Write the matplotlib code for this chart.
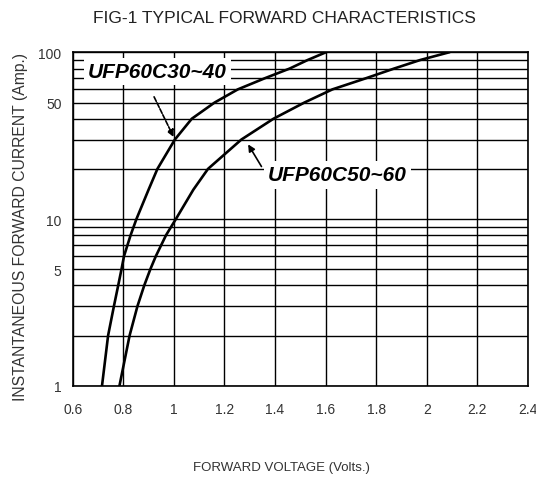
import matplotlib
matplotlib.use('Agg')
from matplotlib import pyplot as plt
from matplotlib.ticker import FixedLocator, NullFormatter

plt.rcParams['font.family'] = ['Liberation Sans', 'DejaVu Sans']

# forward voltage (V) vs instantaneous forward current (A)
v_30_40 = [0.716, 0.740, 0.763, 0.780, 0.793, 0.803, 0.829, 0.852, 0.900, 0.935, 1.004,
           1.071, 1.161, 1.253, 1.360, 1.458, 1.529, 1.600]
i_30_40 = [1, 2, 3, 4, 5, 6, 8, 10, 15, 20, 30, 40, 50, 60, 70, 80, 90, 100]

v_50_60 = [0.785, 0.825, 0.856, 0.883, 0.907, 0.929, 0.969, 1.008, 1.077, 1.135, 1.267,
           1.394, 1.516, 1.627, 1.760, 1.871, 1.974, 2.087]
i_50_60 = [1, 2, 3, 4, 5, 6, 8, 10, 15, 20, 30, 40, 50, 60, 70, 80, 90, 100]

x_ticks = [0.6, 0.8, 1.0, 1.2, 1.4, 1.6, 1.8, 2.0, 2.2, 2.4]
x_labels = ['0.6', '0.8', '1', '1.2', '1.4', '1.6', '1.8', '2', '2.2', '2.4']
y_ticks = [1, 5, 10, 50, 100]
y_labels = ['1', '5', '10', '50', '100']
y_grid = [2, 3, 4, 6, 7, 8, 9, 20, 30, 40, 60, 70, 80, 90]

fig = plt.figure(figsize=(5.36, 4.81), dpi=100)
ax = fig.add_axes([0.1356, 0.196, 0.8494, 0.693])

ax.plot(v_30_40, i_30_40, color='black', lw=1.9, zorder=3, solid_joinstyle='round')
ax.plot(v_50_60, i_50_60, color='black', lw=1.9, zorder=3, solid_joinstyle='round')

ax.set_yscale('log')
ax.set_xlim(0.6, 2.4)
ax.set_ylim(1, 100)

ax.xaxis.set_major_locator(FixedLocator(x_ticks))
ax.set_xticklabels(x_labels)
ax.yaxis.set_major_locator(FixedLocator(y_ticks))
ax.set_yticklabels(y_labels)
ax.yaxis.set_minor_locator(FixedLocator(y_grid))
ax.yaxis.set_minor_formatter(NullFormatter())
ax.tick_params(which='both', length=0, labelsize=10, colors='#333333')
ax.tick_params(axis='x', pad=12)
ax.tick_params(axis='y', pad=8)
ax.grid(True, which='both', color='black', lw=1.0)
for s in ax.spines.values():
    s.set_linewidth(1.2)

# curve labels with arrows
box = dict(boxstyle='square,pad=0.2', fc='white', ec='none')
ax.annotate('', xy=(1.004, 30), xytext=(0.917, 56),
            arrowprops=dict(arrowstyle='-|>', color='black', lw=1.2, ls=(0, (3, 1)),
                            mutation_scale=10), zorder=4)
ax.text(0.66, 77, 'UFP60C30~40', fontsize=15, fontweight='bold', style='italic',
        va='center', ha='left', bbox=box, zorder=5)
ax.annotate('', xy=(1.288, 29), xytext=(1.352, 20),
            arrowprops=dict(arrowstyle='-|>', color='black', lw=1.2, mutation_scale=10),
            zorder=4)
ax.text(1.372, 18.4, 'UFP60C50~60', fontsize=15, fontweight='bold', style='italic',
        va='center', ha='left', bbox=box, zorder=5)

fig.text(0.53, 0.962, 'FIG-1 TYPICAL FORWARD CHARACTERISTICS', ha='center', va='center',
         fontsize=12.5, color='#222222')
fig.text(0.038, 0.529, 'INSTANTANEOUS FORWARD CURRENT (Amp.)', rotation=90, ha='center',
         va='center', fontsize=11.3, color='#333333')
fig.text(0.526, 0.027, 'FORWARD VOLTAGE (Volts.)', ha='center', va='center',
         fontsize=9.5, color='#333333')

fig.savefig('out.png', dpi=100)
